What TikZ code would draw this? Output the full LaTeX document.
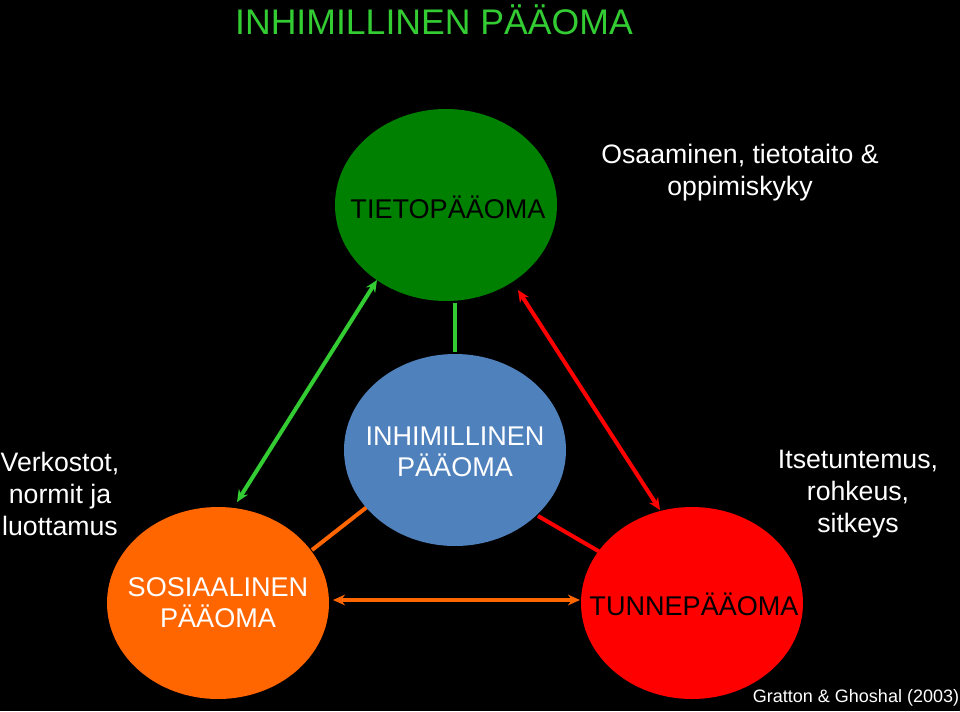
\documentclass[tikz,border=0pt]{standalone}
\usepackage{fontspec}
\setmainfont{Liberation Sans}
\usetikzlibrary{shapes.geometric,arrows.meta}
\definecolor{tgreen}{RGB}{0,128,0}
\definecolor{lgreen}{RGB}{51,204,51}
\definecolor{tblue}{RGB}{79,129,189}
\definecolor{torange}{RGB}{255,102,0}
\tikzset{blob/.style={ellipse,minimum width=222pt*0.75,minimum height=192pt*0.75,inner sep=0pt},
btxt/.style={align=center,font=\fontsize{20.3}{23}\selectfont},
wtxt/.style={text=white,align=center,font=\fontsize{20}{24}\selectfont},
conn/.style={line width=3pt},
dbl/.style={conn,{Stealth[length=9pt,width=8pt]}-{Stealth[length=9pt,width=8pt]}}}
\begin{document}
\begin{tikzpicture}[x=0.75pt,y=-0.75pt]
\fill[black] (0,0) rectangle (960,711);
\useasboundingbox (0,0) rectangle (960,711);
\node[text=lgreen,font=\fontsize{26.7}{30}\selectfont] (title) at (434,20) {INHIMILLINEN PÄÄOMA};
\coordinate (g1) at (455,303); \coordinate (g2) at (455,352);
\coordinate (a1) at (377,280); \coordinate (a2) at (237,502);
\coordinate (b1) at (518,290); \coordinate (b2) at (660,510);
\coordinate (c1) at (333,600); \coordinate (c2) at (580,600);
\coordinate (o1) at (312,550); \coordinate (o2) at (372,503);
\coordinate (r1) at (538,516); \coordinate (r2) at (600,552);
\draw[conn,lgreen] (g1) -- (g2);
\draw[conn,torange] (o1) -- (o2);
\draw[conn,red] (r1) -- (r2);
\draw[dbl,lgreen] (a1) -- (a2);
\draw[dbl,red] (b1) -- (b2);
\draw[dbl,torange] (c1) -- (c2);
\node[blob,fill=tgreen] (tieto) at (446,205) {};
\node[btxt] (tietol) at (448,207) {TIETOPÄÄOMA};
\node[blob,fill=tblue] (inhi) at (455,450) {};
\node[btxt,text=white] (inhil) at (455,452) {INHIMILLINEN\\PÄÄOMA};
\node[blob,fill=torange] (sos) at (218,603) {};
\node[btxt,text=white] (sosl) at (218,603) {SOSIAALINEN\\PÄÄOMA};
\node[blob,fill=red] (tunne) at (692,603) {};
\node[btxt] (tunnel) at (694,604) {TUNNEPÄÄOMA};
\node[wtxt] (t1) at (740,173) {Osaaminen, tietotaito \&\\oppimiskyky};
\node[wtxt] (t2) at (60,494) {Verkostot,\\normit ja\\luottamus};
\node[wtxt] (t3) at (858,494) {Itsetuntemus,\\rohkeus,\\sitkeys};
\node[text=white,font=\fontsize{13.5}{15}\selectfont] (ref) at (856,698) {Gratton \& Ghoshal (2003)};
\end{tikzpicture}
\end{document}
